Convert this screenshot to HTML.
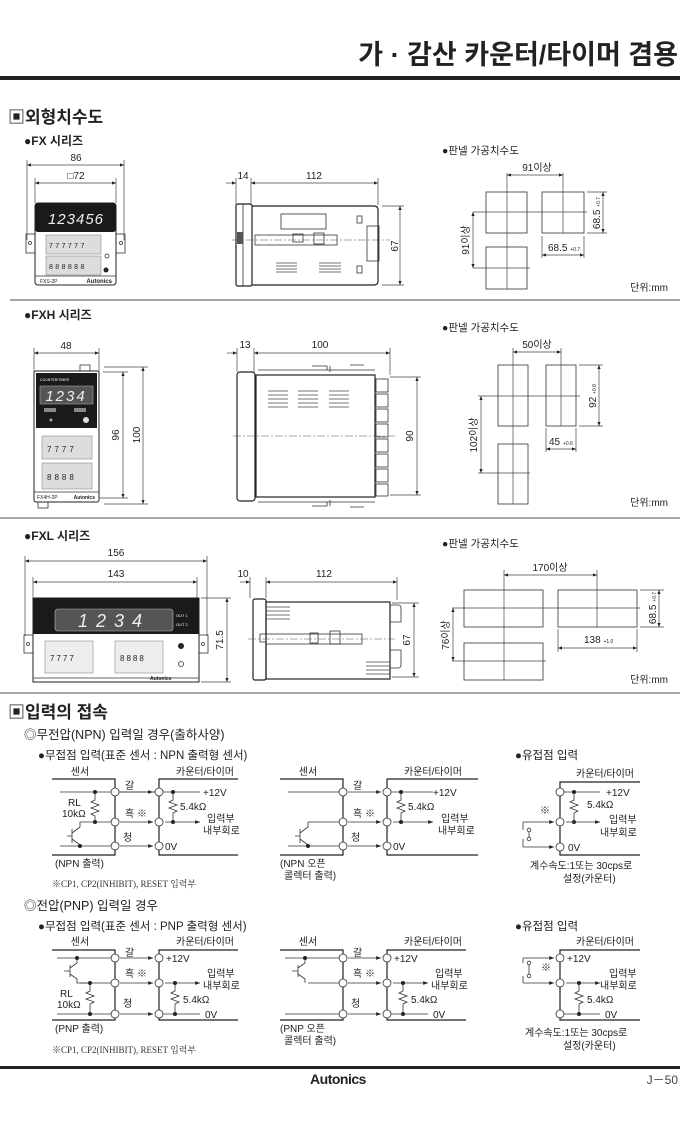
<!DOCTYPE html>
<html><head><meta charset="utf-8"><style>
html,body{margin:0;padding:0;background:#fff}
svg{display:block}
text{font-family:"Liberation Sans","Noto Sans CJK KR",sans-serif;fill:#222}
.b{font-weight:bold}
.s{font-size:10px}
.ln{stroke:#333;stroke-width:0.8;fill:none}
.dm{stroke:#444;stroke-width:0.7;fill:none}
.th{stroke:#222;stroke-width:1.2;fill:none}
.cl{stroke:#555;stroke-width:0.6;fill:none;stroke-dasharray:8 2 2 2}
.ci{fill:#fff;stroke:#333;stroke-width:0.8}
.dt{fill:#222}
</style></head><body>
<svg width="680" height="1134" viewBox="0 0 680 1134" xmlns="http://www.w3.org/2000/svg">
<defs>
<marker id="a" viewBox="0 0 10 10" refX="10" refY="5" markerWidth="6" markerHeight="6" orient="auto-start-reverse"><path d="M0,1 L10,5 L0,9z" fill="#222"/></marker>
</defs>

<!-- Header -->
<text x="678" y="64" text-anchor="end" class="b" style="font-size:27px">가 · 감산 카운터/타이머 겸용</text>
<rect x="0" y="76" width="680" height="4" fill="#222"/>
<text x="8" y="123" class="b" style="font-size:17px">▣외형치수도</text>
<text x="24" y="145" class="b" style="font-size:12px">●FX 시리즈</text>

<!-- FX front -->
<g>
<line class="dm" x1="27" y1="165" x2="124" y2="165" marker-start="url(#a)" marker-end="url(#a)"/>
<line class="dm" x1="27" y1="160" x2="27" y2="240"/><line class="dm" x1="124" y1="160" x2="124" y2="240"/>
<text x="76" y="161" text-anchor="middle" class="s">86</text>
<line class="dm" x1="35" y1="183" x2="116" y2="183" marker-start="url(#a)" marker-end="url(#a)"/>
<line class="dm" x1="35" y1="178" x2="35" y2="203"/><line class="dm" x1="116" y1="178" x2="116" y2="203"/>
<text x="76" y="179" text-anchor="middle" class="s">□72</text>
<rect x="26" y="234" width="9" height="19" class="ln"/><circle cx="30" cy="243" r="1.5" class="ln"/>
<rect x="116" y="234" width="9" height="19" class="ln"/><circle cx="121" cy="243" r="1.5" class="ln"/>
<rect x="35" y="203" width="81" height="82" rx="3" fill="#fff" stroke="#222"/>
<rect x="35" y="203" width="81" height="29" rx="3" fill="#1a1a1a"/>
<text x="76" y="224" text-anchor="middle" style="fill:#eee;font-size:15px;font-style:italic;letter-spacing:1px">123456</text>
<rect x="46" y="235" width="55" height="19" fill="#ddd" stroke="#777" stroke-width="0.5"/>
<rect x="46" y="256" width="55" height="19" fill="#ddd" stroke="#777" stroke-width="0.5"/>
<text x="49" y="248" style="font-size:7px" letter-spacing="2.4">777777</text>
<text x="49" y="269" style="font-size:7px" letter-spacing="2.4">888888</text>
<circle cx="107" cy="256" r="2" class="ln"/><circle cx="106" cy="270" r="2.5" class="dt"/>
<line x1="35" y1="276" x2="116" y2="276" class="ln"/>
<text x="40" y="283" style="font-size:5px">FXS-2P</text>
<text x="112" y="283" text-anchor="end" class="b" style="font-size:6px">Autonics</text>
</g>

<!-- FX side -->
<g>
<line class="dm" x1="236" y1="178" x2="236" y2="205"/><line class="dm" x1="251" y1="178" x2="251" y2="205"/><line class="dm" x1="378" y1="178" x2="378" y2="205"/>
<line class="dm" x1="226" y1="183" x2="236" y2="183" marker-end="url(#a)"/>
<line class="dm" x1="251" y1="183" x2="378" y2="183" marker-start="url(#a)" marker-end="url(#a)"/>
<text x="243" y="179" text-anchor="middle" class="s">14</text>
<text x="314" y="179" text-anchor="middle" class="s">112</text>
<rect x="236" y="204" width="16" height="82" rx="2" class="th"/>
<line x1="243" y1="204" x2="243" y2="286" class="ln"/>
<rect x="237" y="232" width="6" height="12" fill="#555"/>
<path d="M252 206 H374 Q378 206 378 210 V281 Q378 285 374 285 H252" class="th"/>
<rect x="281" y="214" width="45" height="15" class="ln"/>
<rect x="357" y="216" width="5" height="7" class="ln"/><rect x="357" y="266" width="5" height="7" class="ln"/>
<rect x="367" y="226" width="12" height="35" class="ln"/>
<rect x="255" y="235" width="82" height="10" class="ln"/>
<rect x="293" y="234" width="10" height="8" class="ln"/><rect x="314" y="233" width="10" height="11" class="ln"/>
<line x1="232" y1="240" x2="390" y2="240" class="cl"/>
<g stroke="#444" stroke-width="0.8"><line x1="276" y1="263" x2="297" y2="263"/><line x1="276" y1="266" x2="297" y2="266"/><line x1="276" y1="269" x2="297" y2="269"/><line x1="276" y1="272" x2="297" y2="272"/>
<line x1="319" y1="263" x2="341" y2="263"/><line x1="319" y1="266" x2="341" y2="266"/><line x1="319" y1="269" x2="341" y2="269"/><line x1="319" y1="272" x2="341" y2="272"/></g>
<line class="dm" x1="382" y1="206" x2="404" y2="206"/><line class="dm" x1="382" y1="285" x2="404" y2="285"/>
<line class="dm" x1="400" y1="206" x2="400" y2="285" marker-start="url(#a)" marker-end="url(#a)"/>
<text transform="translate(398,246) rotate(-90)" text-anchor="middle" class="s">67</text>
</g>

<!-- FX panel -->
<g>
<text x="442" y="154" style="font-size:10.5px">●판넬 가공치수도</text>
<rect x="486" y="192" width="41" height="41" class="ln"/><rect x="542" y="192" width="42" height="41" class="ln"/><rect x="486" y="247" width="41" height="42" class="ln"/>
<line x1="507" y1="173" x2="507" y2="289" class="dm"/><line x1="563" y1="173" x2="563" y2="233" class="dm"/>
<line x1="473" y1="212" x2="587" y2="212" class="dm"/><line x1="473" y1="268" x2="530" y2="268" class="dm"/>
<line x1="507" y1="175" x2="563" y2="175" class="dm" marker-start="url(#a)" marker-end="url(#a)"/>
<text x="537" y="171" text-anchor="middle" class="s">91이상</text>
<line x1="473" y1="212" x2="473" y2="268" class="dm" marker-start="url(#a)" marker-end="url(#a)"/>
<text transform="translate(469,240) rotate(-90)" text-anchor="middle" class="s">91이상</text>
<line x1="587" y1="192" x2="607" y2="192" class="dm"/><line x1="587" y1="233" x2="607" y2="233" class="dm"/>
<line x1="603" y1="192" x2="603" y2="233" class="dm" marker-start="url(#a)" marker-end="url(#a)"/>
<text transform="translate(600,213) rotate(-90)" text-anchor="middle" class="s">68.5 <tspan style="font-size:5px">+0.7</tspan></text>
<line x1="542" y1="236" x2="542" y2="258" class="dm"/><line x1="584" y1="236" x2="584" y2="258" class="dm"/>
<line x1="542" y1="255" x2="584" y2="255" class="dm" marker-start="url(#a)" marker-end="url(#a)"/>
<text x="548" y="251" class="s">68.5 <tspan style="font-size:5px">+0.7</tspan></text>
<text x="668" y="291" text-anchor="end" class="s">단위:mm</text>
</g>
<line x1="10" y1="300" x2="680" y2="300" stroke="#888" stroke-width="1.5"/>

<!-- FXH -->
<text x="24" y="319" class="b" style="font-size:12px">●FXH 시리즈</text>
<g>
<line class="dm" x1="34" y1="353" x2="99" y2="353" marker-start="url(#a)" marker-end="url(#a)"/>
<line class="dm" x1="34" y1="348" x2="34" y2="372"/><line class="dm" x1="99" y1="348" x2="99" y2="372"/>
<text x="66" y="349" text-anchor="middle" class="s">48</text>
<rect x="80" y="365" width="10" height="6" class="ln"/><rect x="38" y="502" width="10" height="6" class="ln"/>
<rect x="34" y="371" width="65" height="131" rx="2" fill="#fff" stroke="#222"/>
<rect x="36" y="373" width="61" height="55" fill="#1a1a1a"/>
<text x="40" y="381" style="font-size:3.5px;fill:#fff">COUNTER/TIMER</text>
<rect x="40" y="386" width="53" height="18" fill="#555" stroke="#bbb" stroke-width="0.5"/>
<text x="66" y="401" text-anchor="middle" style="font-size:15px;fill:#eee;font-style:italic;letter-spacing:2px">1234</text>
<rect x="44" y="408" width="12" height="4" fill="#888"/><rect x="74" y="408" width="12" height="4" fill="#888"/>
<circle cx="51" cy="420" r="1.5" fill="#aaa"/><circle cx="86" cy="420" r="3" fill="#ddd"/>
<rect x="42" y="436" width="50" height="23" fill="#ddd" stroke="#777" stroke-width="0.5"/>
<rect x="42" y="463" width="50" height="26" fill="#ddd" stroke="#777" stroke-width="0.5"/>
<text x="47" y="452" style="font-size:8px" letter-spacing="3">7777</text>
<text x="47" y="480" style="font-size:8px" letter-spacing="3">8888</text>
<line x1="34" y1="492" x2="99" y2="492" class="ln"/>
<text x="37" y="499" style="font-size:5px">FX4H-2P</text><text x="95" y="499" text-anchor="end" class="b" style="font-size:5px">Autonics</text>
<line class="dm" x1="103" y1="372" x2="128" y2="372"/><line class="dm" x1="100" y1="498" x2="128" y2="498"/>
<line class="dm" x1="123" y1="372" x2="123" y2="498" marker-start="url(#a)" marker-end="url(#a)"/>
<text transform="translate(119,435) rotate(-90)" text-anchor="middle" class="s">96</text>
<line class="dm" x1="104" y1="367" x2="148" y2="367"/><line class="dm" x1="104" y1="504" x2="148" y2="504"/>
<line class="dm" x1="143" y1="367" x2="143" y2="504" marker-start="url(#a)" marker-end="url(#a)"/>
<text transform="translate(140,435) rotate(-90)" text-anchor="middle" class="s">100</text>
</g>
<g>
<line class="dm" x1="237" y1="348" x2="237" y2="372"/><line class="dm" x1="254" y1="348" x2="254" y2="372"/><line class="dm" x1="390" y1="348" x2="390" y2="375"/>
<line class="dm" x1="227" y1="353" x2="237" y2="353" marker-end="url(#a)"/>
<line class="dm" x1="254" y1="353" x2="390" y2="353" marker-start="url(#a)" marker-end="url(#a)"/>
<text x="245" y="348" text-anchor="middle" class="s">13</text><text x="320" y="348" text-anchor="middle" class="s">100</text>
<rect x="237" y="372" width="18" height="129" rx="3" class="th"/>
<rect x="256" y="375" width="119" height="122" class="th"/>
<line x1="258" y1="370" x2="375" y2="370" class="ln"/><line x1="258" y1="502" x2="375" y2="502" class="ln"/>
<path d="M312 366 h15 v4 M350 365 h14 M330 366 v6" class="ln"/>
<path d="M312 506 h15 v-4 M350 507 h14 M330 506 v-6" class="ln"/>
<g stroke="#444" stroke-width="0.8">
<line x1="268" y1="391" x2="288" y2="391"/><line x1="268" y1="395" x2="288" y2="395"/><line x1="268" y1="399" x2="288" y2="399"/><line x1="268" y1="403" x2="288" y2="403"/><line x1="268" y1="407" x2="288" y2="407"/>
<line x1="298" y1="391" x2="318" y2="391"/><line x1="298" y1="395" x2="318" y2="395"/><line x1="298" y1="399" x2="318" y2="399"/><line x1="298" y1="403" x2="318" y2="403"/><line x1="298" y1="407" x2="318" y2="407"/>
<line x1="329" y1="391" x2="349" y2="391"/><line x1="329" y1="395" x2="349" y2="395"/><line x1="329" y1="399" x2="349" y2="399"/><line x1="329" y1="403" x2="349" y2="403"/><line x1="329" y1="407" x2="349" y2="407"/></g>
<g class="ln"><rect x="376" y="379" width="12" height="13"/><rect x="376" y="394" width="12" height="13"/><rect x="376" y="409" width="12" height="13"/><rect x="376" y="424" width="12" height="13"/><rect x="376" y="439" width="12" height="13"/><rect x="376" y="454" width="12" height="13"/><rect x="376" y="469" width="12" height="13"/><rect x="376" y="484" width="12" height="12"/></g>
<line x1="233" y1="436" x2="395" y2="436" class="cl"/>
<line class="dm" x1="390" y1="377" x2="421" y2="377"/><line class="dm" x1="390" y1="495" x2="421" y2="495"/>
<line class="dm" x1="417" y1="377" x2="417" y2="495" marker-start="url(#a)" marker-end="url(#a)"/>
<text transform="translate(413,436) rotate(-90)" text-anchor="middle" class="s">90</text>
</g>
<g>
<text x="442" y="331" style="font-size:10.5px">●판넬 가공치수도</text>
<rect x="498" y="365" width="30" height="61" class="ln"/><rect x="546" y="365" width="30" height="61" class="ln"/><rect x="498" y="444" width="30" height="60" class="ln"/>
<line x1="513" y1="348" x2="513" y2="504" class="dm"/><line x1="561" y1="348" x2="561" y2="426" class="dm"/>
<line x1="478" y1="396" x2="580" y2="396" class="dm"/><line x1="478" y1="473" x2="530" y2="473" class="dm"/>
<line x1="513" y1="352" x2="561" y2="352" class="dm" marker-start="url(#a)" marker-end="url(#a)"/>
<text x="537" y="348" text-anchor="middle" class="s">50이상</text>
<line x1="481" y1="396" x2="481" y2="473" class="dm" marker-start="url(#a)" marker-end="url(#a)"/>
<text transform="translate(477,435) rotate(-90)" text-anchor="middle" class="s">102이상</text>
<line x1="579" y1="365" x2="603" y2="365" class="dm"/><line x1="579" y1="426" x2="603" y2="426" class="dm"/>
<line x1="599" y1="365" x2="599" y2="426" class="dm" marker-start="url(#a)" marker-end="url(#a)"/>
<text transform="translate(596,396) rotate(-90)" text-anchor="middle" class="s">92 <tspan style="font-size:5px">+0.8</tspan></text>
<line x1="546" y1="428" x2="546" y2="452" class="dm"/><line x1="576" y1="428" x2="576" y2="452" class="dm"/>
<line x1="546" y1="449" x2="576" y2="449" class="dm" marker-start="url(#a)" marker-end="url(#a)"/>
<text x="549" y="445" class="s">45 <tspan style="font-size:5px">+0.6</tspan></text>
<text x="668" y="506" text-anchor="end" class="s">단위:mm</text>
</g>
<line x1="0" y1="518" x2="680" y2="518" stroke="#888" stroke-width="1.5"/>

<!-- FXL -->
<text x="24" y="540" class="b" style="font-size:12px">●FXL 시리즈</text>
<g>
<line class="dm" x1="25" y1="561" x2="207" y2="561" marker-start="url(#a)" marker-end="url(#a)"/>
<line class="dm" x1="25" y1="556" x2="25" y2="636"/><line class="dm" x1="207" y1="556" x2="207" y2="636"/>
<text x="116" y="556" text-anchor="middle" class="s">156</text>
<line class="dm" x1="33" y1="582" x2="197" y2="582" marker-start="url(#a)" marker-end="url(#a)"/>
<line class="dm" x1="33" y1="577" x2="33" y2="598"/><line class="dm" x1="197" y1="577" x2="197" y2="598"/>
<text x="116" y="577" text-anchor="middle" class="s">143</text>
<rect x="24" y="635" width="9" height="18" class="ln"/><circle cx="28" cy="644" r="1.5" class="ln"/>
<rect x="199" y="635" width="9" height="18" class="ln"/><circle cx="203" cy="644" r="1.5" class="ln"/>
<rect x="33" y="598" width="166" height="84" fill="#fff" stroke="#222"/>
<rect x="33" y="598" width="166" height="36" fill="#1a1a1a"/>
<rect x="55" y="609" width="118" height="22" rx="3" fill="#555" stroke="#bbb" stroke-width="0.6"/>
<text x="114" y="627" text-anchor="middle" style="font-size:18px;fill:#eee;font-style:italic;letter-spacing:8px">1234</text>
<text x="176" y="617" style="font-size:4px;fill:#fff">OUT 1</text><text x="176" y="626" style="font-size:4px;fill:#fff">OUT 2</text>
<rect x="45" y="641" width="48" height="32" fill="#eee" stroke="#777" stroke-width="0.5"/>
<rect x="115" y="641" width="48" height="32" fill="#eee" stroke="#777" stroke-width="0.5"/>
<text x="50" y="661" style="font-size:8px" letter-spacing="2">7777</text><text x="120" y="661" style="font-size:8px" letter-spacing="2">8888</text>
<circle cx="181" cy="646" r="3" class="dt"/><circle cx="181" cy="664" r="2.5" class="ln"/>
<line x1="33" y1="678" x2="199" y2="678" class="ln"/>
<text x="150" y="680" class="b" style="font-size:5px">Autonics</text>
<line class="dm" x1="201" y1="598" x2="231" y2="598"/><line class="dm" x1="201" y1="682" x2="231" y2="682"/>
<line class="dm" x1="227" y1="598" x2="227" y2="682" marker-start="url(#a)" marker-end="url(#a)"/>
<text transform="translate(223,640) rotate(-90)" text-anchor="middle" class="s">71.5</text>
</g>
<g>
<line class="dm" x1="250" y1="577" x2="250" y2="598"/><line class="dm" x1="266" y1="577" x2="266" y2="598"/><line class="dm" x1="397" y1="577" x2="397" y2="600"/>
<line class="dm" x1="240" y1="582" x2="250" y2="582" marker-end="url(#a)"/>
<line class="dm" x1="266" y1="582" x2="397" y2="582" marker-start="url(#a)" marker-end="url(#a)"/>
<text x="243" y="577" text-anchor="middle" class="s">10</text><text x="324" y="577" text-anchor="middle" class="s">112</text>
<rect x="253" y="599" width="13" height="81" rx="2" class="th"/>
<rect x="266" y="602" width="124" height="77" class="th"/>
<path d="M390 605 h8 q3 0 3 3 v14 h-11 M390 650 h11 v15 q0 3 -3 3 h-8" class="ln"/>
<g stroke="#444" stroke-width="0.8"><line x1="266" y1="607" x2="290" y2="607"/><line x1="266" y1="611" x2="290" y2="611"/><line x1="266" y1="615" x2="290" y2="615"/><line x1="266" y1="619" x2="290" y2="619"/>
<line x1="366" y1="662" x2="390" y2="662"/><line x1="366" y1="666" x2="390" y2="666"/><line x1="366" y1="670" x2="390" y2="670"/><line x1="366" y1="674" x2="390" y2="674"/></g>
<rect x="260" y="634" width="6" height="8" class="ln"/>
<rect x="266" y="634" width="96" height="10" class="ln"/>
<rect x="310" y="633" width="8" height="10" class="ln"/><rect x="330" y="631" width="10" height="13" class="ln"/>
<line x1="248" y1="639" x2="395" y2="639" class="cl"/>
<line class="dm" x1="392" y1="603" x2="419" y2="603"/><line class="dm" x1="392" y1="677" x2="419" y2="677"/>
<line class="dm" x1="414" y1="603" x2="414" y2="677" marker-start="url(#a)" marker-end="url(#a)"/>
<text transform="translate(410,640) rotate(-90)" text-anchor="middle" class="s">67</text>
</g>
<g>
<text x="442" y="547" style="font-size:10.5px">●판넬 가공치수도</text>
<rect x="464" y="590" width="79" height="37" class="ln"/><rect x="558" y="590" width="79" height="37" class="ln"/><rect x="464" y="643" width="79" height="37" class="ln"/>
<line x1="504" y1="570" x2="504" y2="680" class="dm"/><line x1="597" y1="570" x2="597" y2="627" class="dm"/>
<line x1="452" y1="608" x2="640" y2="608" class="dm"/><line x1="452" y1="661" x2="546" y2="661" class="dm"/>
<line x1="504" y1="575" x2="597" y2="575" class="dm" marker-start="url(#a)" marker-end="url(#a)"/>
<text x="550" y="571" text-anchor="middle" class="s">170이상</text>
<line x1="453" y1="608" x2="453" y2="661" class="dm" marker-start="url(#a)" marker-end="url(#a)"/>
<text transform="translate(449,635) rotate(-90)" text-anchor="middle" class="s">76이상</text>
<line x1="640" y1="590" x2="664" y2="590" class="dm"/><line x1="640" y1="627" x2="664" y2="627" class="dm"/>
<line x1="659" y1="590" x2="659" y2="627" class="dm" marker-start="url(#a)" marker-end="url(#a)"/>
<text transform="translate(656,608) rotate(-90)" text-anchor="middle" class="s">68.5 <tspan style="font-size:5px">+0.7</tspan></text>
<line x1="558" y1="629" x2="558" y2="652" class="dm"/><line x1="637" y1="629" x2="637" y2="652" class="dm"/>
<line x1="558" y1="648" x2="637" y2="648" class="dm" marker-start="url(#a)" marker-end="url(#a)"/>
<text x="584" y="643" class="s">138 <tspan style="font-size:5px">+1.0</tspan></text>
<text x="668" y="683" text-anchor="end" class="s">단위:mm</text>
</g>
<line x1="0" y1="693" x2="680" y2="693" stroke="#888" stroke-width="1.5"/>

<!-- Input connection -->
<text x="8" y="718" class="b" style="font-size:17px">▣입력의 접속</text>
<text x="24" y="739" style="font-size:12.5px">◎무전압(NPN) 입력일 경우(출하사양)</text>
<text x="38" y="759" style="font-size:11.5px">●무접점 입력(표준 센서 : NPN 출력형 센서)</text>
<text x="515" y="759" style="font-size:11.5px">●유접점 입력</text>

<!-- NPN circuit 1 -->
<g>
<text x="80" y="775" text-anchor="middle" class="s">센서</text><text x="205" y="775" text-anchor="middle" class="s">카운터/타이머</text>
<path d="M52 779 H115 V855 H52 M238 779 H159 V855 H238" class="th"/>
<path d="M60 792 H115 M115 792 H159 M159 792 H200" class="ln"/>
<line x1="120" y1="792" x2="153" y2="792" class="ln" marker-end="url(#a)"/>
<line x1="120" y1="822" x2="153" y2="822" class="ln" marker-end="url(#a)"/>
<line x1="120" y1="846" x2="153" y2="846" class="ln" marker-end="url(#a)"/>
<path d="M80 822 H115 M95 792 V800 l-4 2 l8 3 l-8 3 l8 3 l-8 3 l4 2 V822" class="ln"/>
<path d="M60 846 H115" class="ln"/>
<path d="M72 829 V843 M72 836 H67 M72 833 L80 827 V822 M72 839 L80 845 V846" class="ln"/>
<circle cx="95" cy="792" r="2" class="dt"/><circle cx="95" cy="822" r="2" class="dt"/><circle cx="80" cy="846" r="2" class="dt"/>
<path d="M173 792 V800 l-4 2 l8 3 l-8 3 l8 3 l-4 2 V822" class="ln"/>
<line x1="165" y1="822" x2="200" y2="822" class="ln" marker-end="url(#a)"/>
<circle cx="173" cy="792" r="2" class="dt"/><circle cx="173" cy="822" r="2" class="dt"/>
<circle cx="115" cy="792" r="4" class="ci"/><circle cx="115" cy="822" r="4" class="ci"/><circle cx="115" cy="846" r="4" class="ci"/>
<circle cx="159" cy="792" r="4" class="ci"/><circle cx="159" cy="822" r="4" class="ci"/><circle cx="159" cy="846" r="4" class="ci"/>
<text x="125" y="789" class="s">갈</text><text x="125" y="817" class="s">흑 ※</text><text x="123" y="841" class="s">청</text>
<text x="203" y="796" class="s">+12V</text><text x="180" y="810" class="s">5.4kΩ</text>
<text x="207" y="822" class="s">입력부</text><text x="203" y="834" class="s">내부회로</text>
<text x="165" y="850" class="s">0V</text>
<text x="68" y="806" class="s">RL</text><text x="62" y="817" class="s">10kΩ</text>
<text x="55" y="867" class="s">(NPN 출력)</text>
</g>
<text x="52" y="887" style="font-size:9px;font-family:'Liberation Serif','Noto Serif CJK SC',serif;fill:#333">※CP1, CP2(INHIBIT), RESET 입력부</text>

<!-- NPN circuit 2 -->
<g transform="translate(228,0)">
<text x="80" y="775" text-anchor="middle" class="s">센서</text><text x="205" y="775" text-anchor="middle" class="s">카운터/타이머</text>
<path d="M52 779 H115 V855 H52 M250 779 H159 V855 H250" class="th"/>
<path d="M60 792 H115 M159 792 H205" class="ln"/>
<line x1="120" y1="792" x2="153" y2="792" class="ln" marker-end="url(#a)"/>
<line x1="120" y1="822" x2="153" y2="822" class="ln" marker-end="url(#a)"/>
<line x1="120" y1="846" x2="153" y2="846" class="ln" marker-end="url(#a)"/>
<path d="M80 822 H115 M60 846 H115" class="ln"/>
<path d="M72 829 V843 M72 836 H67 M72 833 L80 827 V822 M72 839 L80 845 V846" class="ln"/>
<circle cx="80" cy="846" r="2" class="dt"/>
<path d="M173 792 V800 l-4 2 l8 3 l-8 3 l8 3 l-4 2 V822" class="ln"/>
<line x1="165" y1="822" x2="205" y2="822" class="ln" marker-end="url(#a)"/>
<circle cx="173" cy="792" r="2" class="dt"/><circle cx="173" cy="822" r="2" class="dt"/>
<circle cx="115" cy="792" r="4" class="ci"/><circle cx="115" cy="822" r="4" class="ci"/><circle cx="115" cy="846" r="4" class="ci"/>
<circle cx="159" cy="792" r="4" class="ci"/><circle cx="159" cy="822" r="4" class="ci"/><circle cx="159" cy="846" r="4" class="ci"/>
<text x="125" y="789" class="s">갈</text><text x="125" y="817" class="s">흑 ※</text><text x="123" y="841" class="s">청</text>
<text x="205" y="796" class="s">+12V</text><text x="180" y="810" class="s">5.4kΩ</text>
<text x="213" y="822" class="s">입력부</text><text x="210" y="834" class="s">내부회로</text>
<text x="165" y="850" class="s">0V</text>
<text x="52" y="867" class="s">(NPN 오픈</text><text x="56" y="879" class="s">콜렉터 출력)</text>
</g>

<!-- NPN contact -->
<g>
<text x="605" y="777" text-anchor="middle" class="s">카운터/타이머</text>
<path d="M640 782 H560 V855 H640" class="th"/>
<path d="M560 792 H600 M574 792 V800 l-4 2 l8 3 l-8 3 l8 3 l-4 2 V822" class="ln"/>
<circle cx="574" cy="792" r="2" class="dt"/><circle cx="574" cy="822" r="2" class="dt"/>
<line x1="566" y1="822" x2="600" y2="822" class="ln" marker-end="url(#a)"/>
<path d="M523 822 V830 M529 832 V837 M523 839 V847" class="ln"/>
<circle cx="529" cy="830" r="1.8" class="ln"/><circle cx="529" cy="839" r="1.8" class="ln"/>
<line x1="523" y1="847" x2="554" y2="847" class="ln" marker-end="url(#a)"/>
<line x1="523" y1="822" x2="554" y2="822" class="ln" marker-end="url(#a)"/>
<circle cx="560" cy="792" r="4" class="ci"/><circle cx="560" cy="822" r="4" class="ci"/><circle cx="560" cy="847" r="4" class="ci"/>
<text x="606" y="796" class="s">+12V</text><text x="587" y="808" class="s">5.4kΩ</text>
<text x="609" y="823" class="s">입력부</text><text x="600" y="836" class="s">내부회로</text>
<text x="568" y="851" class="s">0V</text><text x="540" y="814" class="s">※</text>
<text x="530" y="869" class="s">계수속도:1또는 30cps로</text><text x="563" y="882" class="s">설정(카운터)</text>
</g>

<!-- PNP -->
<text x="24" y="910" style="font-size:12.5px">◎전압(PNP) 입력일 경우</text>
<text x="38" y="930" style="font-size:11.5px">●무접점 입력(표준 센서 : PNP 출력형 센서)</text>
<text x="515" y="930" style="font-size:11.5px">●유접점 입력</text>

<g>
<text x="80" y="945" text-anchor="middle" class="s">센서</text><text x="205" y="945" text-anchor="middle" class="s">카운터/타이머</text>
<path d="M52 950 H115 V1020 H52 M238 950 H159 V1020 H238" class="th"/>
<path d="M57 958 H115 M57 1014 H115 M80 983 H115" class="ln"/>
<line x1="120" y1="958" x2="153" y2="958" class="ln" marker-end="url(#a)"/>
<line x1="120" y1="983" x2="153" y2="983" class="ln" marker-end="url(#a)"/>
<line x1="120" y1="1014" x2="153" y2="1014" class="ln" marker-end="url(#a)"/>
<path d="M70 965 V977 M70 971 H64 M70 968 L77 963 V958 M70 974 L77 979 V983 H90" class="ln"/>
<circle cx="77" cy="958" r="2" class="dt"/>
<path d="M90 983 V991 l-4 2 l8 3 l-8 3 l8 3 l-4 2 V1014" class="ln"/>
<circle cx="90" cy="983" r="2" class="dt"/><circle cx="90" cy="1014" r="2" class="dt"/>
<path d="M175 983 V991 l-4 2 l8 3 l-8 3 l8 3 l-4 2 V1014 M159 1014 H200" class="ln"/>
<line x1="165" y1="983" x2="200" y2="983" class="ln" marker-end="url(#a)"/>
<circle cx="175" cy="983" r="2" class="dt"/><circle cx="175" cy="1014" r="2" class="dt"/>
<circle cx="115" cy="958" r="4" class="ci"/><circle cx="115" cy="983" r="4" class="ci"/><circle cx="115" cy="1014" r="4" class="ci"/>
<circle cx="159" cy="958" r="4" class="ci"/><circle cx="159" cy="983" r="4" class="ci"/><circle cx="159" cy="1014" r="4" class="ci"/>
<text x="125" y="956" class="s">갈</text><text x="125" y="977" class="s">흑 ※</text><text x="123" y="1007" class="s">청</text>
<text x="166" y="962" class="s">+12V</text><text x="183" y="1003" class="s">5.4kΩ</text>
<text x="207" y="977" class="s">입력부</text><text x="203" y="989" class="s">내부회로</text>
<text x="205" y="1018" class="s">0V</text>
<text x="60" y="997" class="s">RL</text><text x="57" y="1008" class="s">10kΩ</text>
<text x="55" y="1032" class="s">(PNP 출력)</text>
</g>
<text x="52" y="1053" style="font-size:9px;font-family:'Liberation Serif','Noto Serif CJK SC',serif;fill:#333">※CP1, CP2(INHIBIT), RESET 입력부</text>

<g transform="translate(228,0)">
<text x="80" y="945" text-anchor="middle" class="s">센서</text><text x="205" y="945" text-anchor="middle" class="s">카운터/타이머</text>
<path d="M52 950 H115 V1020 H52 M238 950 H159 V1020 H238" class="th"/>
<path d="M57 958 H115 M57 1014 H115 M80 983 H115" class="ln"/>
<line x1="120" y1="958" x2="153" y2="958" class="ln" marker-end="url(#a)"/>
<line x1="120" y1="983" x2="153" y2="983" class="ln" marker-end="url(#a)"/>
<line x1="120" y1="1014" x2="153" y2="1014" class="ln" marker-end="url(#a)"/>
<path d="M70 965 V977 M70 971 H64 M70 968 L77 963 V958 M70 974 L77 979 V983" class="ln"/>
<circle cx="77" cy="958" r="2" class="dt"/>
<path d="M175 983 V991 l-4 2 l8 3 l-8 3 l8 3 l-4 2 V1014 M159 1014 H200" class="ln"/>
<line x1="165" y1="983" x2="200" y2="983" class="ln" marker-end="url(#a)"/>
<circle cx="175" cy="983" r="2" class="dt"/><circle cx="175" cy="1014" r="2" class="dt"/>
<circle cx="115" cy="958" r="4" class="ci"/><circle cx="115" cy="983" r="4" class="ci"/><circle cx="115" cy="1014" r="4" class="ci"/>
<circle cx="159" cy="958" r="4" class="ci"/><circle cx="159" cy="983" r="4" class="ci"/><circle cx="159" cy="1014" r="4" class="ci"/>
<text x="125" y="956" class="s">갈</text><text x="125" y="977" class="s">흑 ※</text><text x="123" y="1007" class="s">청</text>
<text x="166" y="962" class="s">+12V</text><text x="183" y="1003" class="s">5.4kΩ</text>
<text x="207" y="977" class="s">입력부</text><text x="203" y="989" class="s">내부회로</text>
<text x="205" y="1018" class="s">0V</text>
<text x="52" y="1032" class="s">(PNP 오픈</text><text x="56" y="1044" class="s">콜렉터 출력)</text>
</g>

<g>
<text x="605" y="945" text-anchor="middle" class="s">카운터/타이머</text>
<path d="M640 950 H560 V1020 H640" class="th"/>
<line x1="523" y1="958" x2="554" y2="958" class="ln" marker-end="url(#a)"/>
<path d="M523 958 V963 M529 965 V974 M523 976 V983" class="ln"/>
<circle cx="529" cy="963" r="1.8" class="ln"/><circle cx="529" cy="976" r="1.8" class="ln"/>
<line x1="523" y1="983" x2="554" y2="983" class="ln" marker-end="url(#a)"/>
<line x1="566" y1="983" x2="600" y2="983" class="ln" marker-end="url(#a)"/>
<path d="M579 983 V991 l-4 2 l8 3 l-8 3 l8 3 l-4 2 V1014 M560 1014 H600" class="ln"/>
<circle cx="579" cy="983" r="2" class="dt"/><circle cx="579" cy="1014" r="2" class="dt"/>
<circle cx="560" cy="958" r="4" class="ci"/><circle cx="560" cy="983" r="4" class="ci"/><circle cx="560" cy="1014" r="4" class="ci"/>
<text x="567" y="962" class="s">+12V</text><text x="587" y="1003" class="s">5.4kΩ</text>
<text x="609" y="977" class="s">입력부</text><text x="600" y="989" class="s">내부회로</text>
<text x="605" y="1018" class="s">0V</text><text x="541" y="971" class="s">※</text>
<text x="525" y="1036" class="s">계수속도:1또는 30cps로</text><text x="563" y="1049" class="s">설정(카운터)</text>
</g>

<!-- Footer -->
<rect x="0" y="1066" width="680" height="3" fill="#222"/>
<text x="338" y="1084" text-anchor="middle" class="b" style="font-size:14px;letter-spacing:-0.5px">Autonics</text>
<text x="678" y="1084" text-anchor="end" style="font-size:12px;fill:#444">J－50</text>
</svg>
</body></html>
